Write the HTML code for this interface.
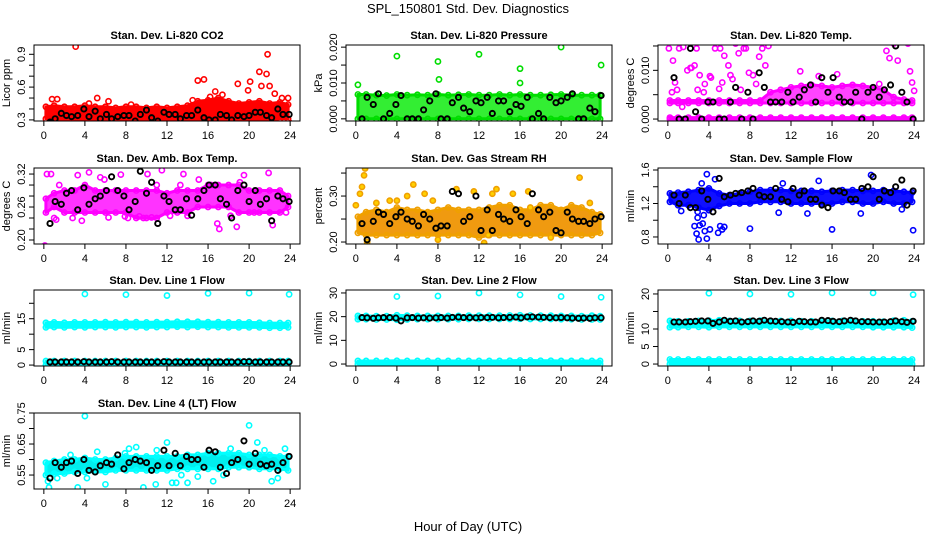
<!DOCTYPE html>
<html><head><meta charset="utf-8"><style>
html,body{margin:0;padding:0;background:#fff;}
svg{display:block;font-family:"Liberation Sans",sans-serif;}
</style></head><body>
<svg id="chart" width="936" height="540" viewBox="0 0 936 540">
<rect width="936" height="540" fill="#fff"/>
<text x="468" y="13" text-anchor="middle" font-size="13">SPL_150801  Std. Dev. Diagnostics</text>
<text x="468" y="531" text-anchor="middle" font-size="13">Hour of Day (UTC)</text>
</svg>
<script>
const xTicks = [0,4,8,12,16,20,24];
const bandHours = [0.2,1,2,3,4,5,6,7,8,9,10,11,12,13,14,15,16,17,18,19,20,21,22,23,23.8];
const blackHours = [0.6,1.1,1.7,2.2,2.7,3.3,3.9,4.4,5.0,5.5,6.1,6.6,7.2,7.8,8.3,8.9,9.4,10.0,10.5,11.1,11.7,12.2,12.8,13.3,13.9,14.4,15.0,15.6,16.1,16.7,17.2,17.8,18.3,18.9,19.5,20.0,20.6,21.1,21.7,22.2,22.8,23.3,23.9];
const outlierHours6 = [4,8,12,16,20,23.9];

// CO2
const co2Lo = [0.31,0.3,0.29,0.29,0.3,0.3,0.3,0.3,0.29,0.3,0.3,0.29,0.3,0.29,0.3,0.3,0.3,0.29,0.3,0.3,0.3,0.3,0.3,0.31,0.31];
const co2Hi = [0.42,0.43,0.42,0.42,0.43,0.42,0.42,0.41,0.42,0.42,0.41,0.42,0.41,0.42,0.43,0.47,0.48,0.5,0.47,0.45,0.46,0.47,0.45,0.46,0.44];
const co2OutX = [0.8,1.3,3.1,4.4,5.2,6.3,8.5,14.5,15,15.6,16.2,16.7,17.4,18.9,19.9,20.1,21,21.2,21.7,21.8,22,22.5,23.2,23.8,24,1.7,2.6,7.9,8.1,12.8];
const co2OutY = [0.49,0.49,0.97,0.45,0.5,0.47,0.44,0.48,0.66,0.67,0.51,0.56,0.53,0.63,0.57,0.65,0.74,0.61,0.72,0.9,0.61,0.54,0.5,0.5,0.27,0.26,0.26,0.25,0.25,0.27];
const co2Blk = [0.28,0.31,0.36,0.34,0.33,0.34,0.4,0.33,0.38,0.31,0.35,0.31,0.33,0.34,0.34,0.29,0.35,0.39,0.32,0.29,0.37,0.35,0.35,0.31,0.34,0.34,0.39,0.32,0.3,0.3,0.35,0.34,0.3,0.34,0.33,0.34,0.37,0.37,0.34,0.32,0.4,0.35,0.35];
// Pressure
const presLo = [0,0,0,0,0,0,0,0,0,0,0,0,0,0,0,0,0,0,0,0,0,0,0,0,0];
const presHi = [0.0068,0.0068,0.0066,0.0065,0.0068,0.0066,0.0067,0.0066,0.0068,0.0066,0.0067,0.0068,0.0066,0.0066,0.0068,0.0066,0.0068,0.0066,0.0066,0.0067,0.0068,0.0066,0.0066,0.0066,0.0066];
const presOutX = [0.2,4,8,8.1,12,16,16,20,23.9];
const presOutY = [0.0095,0.0175,0.016,0.011,0.018,0.014,0.01,0.02,0.015];
const presBlk = [0,0.006,0.004,0.007,0,0.0015,0.004,0.0065,0,0,0,0.0025,0.005,0.007,0,0,0.0045,0.006,0.003,0.002,0.005,0.0045,0.006,0.0015,0.005,0.005,0.002,0.004,0.0035,0.006,0,0.0015,0,0.006,0.0045,0.005,0.006,0.007,0,0,0.003,0.002,0.0065];
// Li-820 Temp
const tempZeroLo = [0,0,0,0,0,0,0,0,0,0,0,0,0,0,0,0,0,0,0,0,0,0,0,0,0];
const tempZeroHi = [0.0003,0.0003,0.0003,0.0003,0.0003,0.0003,0.0003,0.0003,0.0003,0.0003,0.0003,0.0003,0.0003,0.0003,0.0003,0.0003,0.0003,0.0003,0.0003,0.0003,0.0003,0.0003,0.0003,0.0003,0.0003];
const tempLo = [0.0033,0.0033,0.0033,0.0033,0.0033,0.0033,0.0033,0.0033,0.0033,0.0033,0.0033,0.0033,0.0033,0.0033,0.0033,0.0033,0.0033,0.0033,0.0033,0.0033,0.0033,0.0033,0.0033,0.0033,0.0033];
const tempHi = [0.0038,0.0038,0.0038,0.0038,0.0038,0.0038,0.0038,0.0038,0.0038,0.0038,0.0055,0.006,0.0065,0.0068,0.007,0.0068,0.0065,0.0068,0.007,0.0068,0.0065,0.006,0.0045,0.004,0.0038];
const tempOutX = [0.1,0.5,0.7,1.1,1.5,1.9,2.3,2.6,2.8,3.1,3.5,4.2,4.6,5.1,5.5,6.1,6.6,7.1,7.6,7.9,8.3,8.9,9.2,9.8,0.4,1.4,2.2,2.9,3.6,4.1,5.3,5.9,6.9,7.4,8.6,9.5,12.9,14.7,16.5,21.3,21.6,22.0,22.4,23.4,23.6,23.8,24.0,20.6,0.9,5.0,6.3];
const tempOutY = [0.0145,0.012,0.0075,0.0145,0.0148,0.010,0.0105,0.011,0.0145,0.009,0.0055,0.0085,0.0145,0.0145,0.013,0.009,0.0155,0.006,0.0145,0.0095,0.009,0.0128,0.0145,0.015,0.0055,0.0025,0.0105,0.006,0.0072,0.0088,0.0075,0.011,0.0135,0.0145,0.0072,0.011,0.0098,0.0088,0.0092,0.014,0.0125,0.0155,0.012,0.0155,0.0098,0.0075,0.0058,0.0072,0.006,0.0062,0.0082];
const tempBlk = [0.0085,0,0,0.0145,0.0015,0,0.0035,0.0035,0,0,0.0035,0.0065,0,0.0055,0,0.0095,0.0065,0.0035,0.0035,0.0035,0.0055,0.0035,0.0045,0.006,0.007,0.0035,0.0085,0.0055,0.0085,0.0045,0.0035,0.0035,0.0055,0,0.0055,0.0065,0.0045,0.006,0.007,0.015,0.0055,0.0035,0];
// Amb box temp
const ambLo = [0.25,0.26,0.25,0.25,0.25,0.25,0.25,0.25,0.25,0.24,0.24,0.24,0.25,0.25,0.25,0.26,0.26,0.26,0.26,0.25,0.25,0.25,0.25,0.25,0.26];
const ambHi = [0.275,0.285,0.29,0.29,0.3,0.29,0.29,0.29,0.29,0.29,0.29,0.29,0.285,0.29,0.29,0.29,0.3,0.3,0.3,0.3,0.29,0.29,0.29,0.29,0.28];
const ambOutX = [0.1,0.3,0.7,1.0,1.2,2.8,3.3,3.7,4.4,5.5,6.3,7.5,7.9,8.2,9.3,9.7,10.1,10.5,11.5,12.3,13.6,14.0,16.9,17.1,18.2,18.8,19.5,20.5,21.9,22.3,23.6,1.5,5.9,11.0,13.3,15.1,16.3,19.1];
const ambOutY = [0.19,0.32,0.32,0.24,0.237,0.24,0.318,0.235,0.323,0.314,0.241,0.319,0.243,0.24,0.243,0.24,0.32,0.241,0.327,0.244,0.32,0.244,0.23,0.22,0.244,0.224,0.318,0.25,0.322,0.227,0.25,0.30,0.31,0.30,0.30,0.31,0.30,0.305];
const ambBlk = [0.23,0.27,0.265,0.285,0.29,0.255,0.295,0.265,0.275,0.28,0.29,0.315,0.29,0.28,0.255,0.27,0.325,0.285,0.305,0.23,0.28,0.27,0.255,0.255,0.275,0.245,0.275,0.29,0.3,0.3,0.275,0.265,0.24,0.29,0.3,0.27,0.29,0.265,0.275,0.235,0.28,0.275,0.27];
// Gas stream RH
const rhLo = [0.22,0.215,0.215,0.215,0.215,0.215,0.215,0.215,0.215,0.215,0.215,0.215,0.21,0.215,0.215,0.215,0.215,0.215,0.215,0.215,0.215,0.215,0.215,0.215,0.22];
const rhHi = [0.255,0.265,0.27,0.265,0.275,0.27,0.27,0.265,0.27,0.275,0.27,0.27,0.27,0.275,0.28,0.28,0.27,0.27,0.28,0.28,0.27,0.28,0.275,0.265,0.26];
const rhOutX = [0.0,0.4,0.6,0.8,0.9,3.3,4.0,5.0,5.6,6.7,7.5,9.8,11.5,12.9,13.7,13.3,15.3,16.8,21.8,22.8,1.1,8.0,12.5,19.0,2.0,17.0];
const rhOutY = [0.28,0.305,0.32,0.345,0.36,0.29,0.29,0.3,0.325,0.305,0.29,0.315,0.31,0.215,0.315,0.305,0.305,0.31,0.34,0.285,0.2,0.205,0.198,0.21,0.285,0.275];
const rhBlk = [0.24,0.205,0.245,0.265,0.26,0.24,0.255,0.265,0.25,0.245,0.235,0.26,0.25,0.23,0.235,0.235,0.31,0.305,0.245,0.255,0.3,0.225,0.27,0.225,0.26,0.25,0.245,0.27,0.255,0.24,0.305,0.27,0.255,0.265,0.225,0.22,0.265,0.25,0.245,0.245,0.24,0.25,0.255];
// Sample flow
const flowLo = [1.22,1.18,1.18,1.15,1.12,1.17,1.2,1.2,1.2,1.22,1.22,1.22,1.2,1.2,1.2,1.2,1.2,1.22,1.22,1.2,1.2,1.22,1.2,1.2,1.22];
const flowHi = [1.32,1.33,1.34,1.36,1.38,1.32,1.3,1.32,1.34,1.36,1.36,1.36,1.35,1.35,1.35,1.34,1.35,1.36,1.36,1.35,1.35,1.36,1.35,1.34,1.33];
const flowOutX = [2.6,2.8,3.0,3.1,3.4,3.6,3.8,4.1,4.9,5.1,5.3,5.5,2.9,3.5,3.8,4.6,1.3,8.0,16.0,23.9,10.8,13.6,18.8,19.8,20.0,22.8,11.2,14.7,3.3,2.9];
const flowOutY = [0.93,0.84,0.77,0.94,0.96,0.87,0.78,0.89,0.85,0.93,0.89,0.92,1.03,1.06,1.55,1.49,1.11,0.9,0.89,0.88,1.09,1.08,1.08,1.54,1.52,1.13,1.44,1.47,1.44,1.1];
const flowBlk = [1.3,1.2,1.3,1.15,1.15,1.35,1.25,1.1,1.5,1.28,1.3,1.32,1.33,1.35,1.38,1.3,1.28,1.28,1.38,1.25,1.22,1.38,1.3,1.35,1.25,1.25,1.18,1.15,1.35,1.35,1.33,1.25,1.25,1.38,1.4,1.52,1.25,1.35,1.33,1.4,1.48,1.18,1.35];
// Line 1
const l1Lo = [12.2,12.3,12.2,12.3,12.2,12.3,12.3,12.2,12.3,12.3,12.2,12.3,12.3,12.4,12.3,12.4,12.3,12.3,12.2,12.2,12.2,12.2,12.1,12.1,12.2];
const l1Hi = [13.7,13.8,13.7,13.8,13.8,13.8,13.9,13.8,13.9,13.9,13.8,13.9,13.9,14.0,14.0,14.0,13.9,13.9,13.8,13.8,13.8,13.7,13.6,13.6,13.6];
const l1BotLo = [0,0,0,0,0,0,0,0,0,0,0,0,0,0,0,0,0,0,0,0,0,0,0,0,0];
const l1BotHi = [1.3,1.3,1.3,1.3,1.3,1.3,1.3,1.3,1.3,1.3,1.3,1.3,1.3,1.3,1.3,1.3,1.3,1.3,1.3,1.3,1.3,1.3,1.3,1.3,1.3];
const l1OutY = [23.0,22.8,22.5,23.2,23.3,22.9];
const l1Blk = [1,1,1,1,1,1,1.1,1,1,1,1,1.1,1,1,1,1,1,1,1,1,1.1,1,1,1,1,1,1,1,1,1,1,1,1,1,1.1,1.1,1,1,1,1,1,1,1];
// Line 2
const l2Lo = [18.9,18.9,18.8,18.8,18.7,18.8,18.9,18.9,18.9,18.9,18.9,19.0,19.0,19.0,19.0,19.0,19.1,19.0,19.0,19.0,18.9,18.9,18.8,18.8,18.8];
const l2Hi = [20.3,20.3,20.2,20.2,20.6,20.4,20.3,20.3,20.3,20.3,20.3,20.4,20.4,20.4,20.4,20.5,20.6,20.5,20.4,20.4,20.3,20.3,20.2,20.4,20.2];
const l2BotLo = [0,0,0,0,0,0,0,0,0,0,0,0,0,0,0,0,0,0,0,0,0,0,0,0,0];
const l2BotHi = [1.3,1.3,1.3,1.3,1.4,1.3,1.3,1.3,1.3,1.3,1.3,1.3,1.3,1.3,1.3,1.4,1.5,1.5,1.4,1.4,1.3,1.3,1.3,1.3,1.3];
const l2OutY = [28.5,28.7,30.0,29.2,28.5,28.2];
const l2Blk = [19.6,19.5,19.3,19.5,19.6,19.6,19.4,18.2,19.5,19.6,19.4,19.5,19.4,19.5,19.6,19.4,19.7,19.8,19.6,19.6,19.5,19.6,19.6,19.7,19.5,19.6,19.7,19.8,19.5,19.9,19.9,19.8,19.7,19.6,19.5,19.6,19.5,19.4,19.3,19.4,19.3,19.5,19.5];
// Line 3
const l3Lo = [10.5,10.5,10.6,10.6,10.5,10.6,10.6,10.6,10.6,10.6,10.6,10.6,10.6,10.6,10.6,10.6,10.6,10.6,10.6,10.6,10.5,10.5,10.5,10.5,10.4];
const l3Hi = [12.3,12.2,12.2,12.3,12.4,12.5,12.3,12.3,12.3,12.4,12.3,12.3,12.3,12.2,12.2,12.3,12.3,12.3,12.3,12.2,12.2,12.1,12.4,12.5,12.2];
const l3BotLo = [0,0,0,0,0,0,0,0,0,0,0,0,0,0,0,0,0,0,0,0,0,0,0,0,0];
const l3BotHi = [1.3,1.3,1.3,1.3,1.3,1.3,1.3,1.3,1.3,1.3,1.3,1.3,1.3,1.3,1.3,1.3,1.3,1.3,1.3,1.3,1.3,1.3,1.3,1.3,1.3];
const l3OutY = [20.2,20.0,19.9,20.3,20.3,19.8];
const l3Blk = [12.0,12.0,12.0,12.1,12.2,12.3,12.3,11.6,12.0,12.5,12.2,12.3,12.0,12.1,12.3,12.2,12.5,12.3,12.2,12.1,12.0,11.9,12.2,12.1,12.0,12.0,12.5,12.4,12.2,12.1,12.3,12.5,12.3,12.1,12.1,12.0,12.0,12.0,12.1,12.3,12.1,11.9,12.2];
// Line 4
const l4Lo = [0.55,0.555,0.555,0.56,0.56,0.56,0.56,0.565,0.565,0.565,0.565,0.565,0.565,0.57,0.57,0.57,0.57,0.57,0.575,0.575,0.575,0.57,0.57,0.57,0.565];
const l4Hi = [0.59,0.595,0.6,0.6,0.605,0.6,0.6,0.605,0.61,0.61,0.61,0.61,0.61,0.61,0.615,0.615,0.62,0.62,0.62,0.62,0.615,0.615,0.615,0.61,0.61];
const l4OutX = [0.4,0.5,3.3,4.0,4.2,6.0,7.9,8.3,9.7,10.9,12.0,12.5,12.9,14.0,15.0,16.5,17.5,20.0,20.8,22.2,22.8,23.5,1.3,2.6,5.2,9.0,11.0,18.2,21.5,13.4];
const l4OutY = [0.53,0.51,0.51,0.74,0.54,0.52,0.62,0.635,0.51,0.52,0.655,0.525,0.525,0.525,0.545,0.53,0.55,0.71,0.655,0.53,0.54,0.635,0.54,0.615,0.625,0.64,0.63,0.635,0.63,0.55];
const l4Blk = [0.54,0.59,0.575,0.59,0.595,0.555,0.6,0.565,0.56,0.58,0.59,0.585,0.615,0.57,0.59,0.6,0.595,0.59,0.565,0.58,0.63,0.58,0.62,0.58,0.61,0.6,0.6,0.575,0.63,0.625,0.575,0.555,0.59,0.6,0.66,0.585,0.62,0.585,0.58,0.585,0.565,0.59,0.61];

const NS = "http://www.w3.org/2000/svg";
const svg = document.getElementById('chart');
function mk(tag, attrs, parent){
  const e = document.createElementNS(NS, tag);
  for (const k in attrs) e.setAttribute(k, attrs[k]);
  (parent||svg).appendChild(e);
  return e;
}
const colLeft = [34, 346, 658];
const rowTop = [45, 168, 290, 413];
const W = 266, H = 76;

function panel(p){
  const L = colLeft[p.col], T = rowTop[p.row], B = T + H, R = L + W;
  const g = mk('g', {});
  
  
  const xs = h => L + W * (h + 0.96) / 25.92;
  const ys = v => B - H * (v - p.lo) / (p.hi - p.lo);
  const clipId = 'clip-' + p.name;
  const cp = mk('clipPath', {id: clipId}, g);
  mk('rect', {x: L, y: T, width: W, height: H}, cp);
  const plot = mk('g', {'clip-path': 'url(#' + clipId + ')'}, g);
  
  
  // bands
  (p.bands || []).forEach((bd, bi) => {
    let pts = [];
    bandHours.forEach((h, i) => pts.push(xs(h).toFixed(1) + ',' + ys(bd[1][i]).toFixed(1)));
    for (let i = bandHours.length - 1; i >= 0; i--) pts.push(xs(bandHours[i]).toFixed(1) + ',' + ys(bd[0][i]).toFixed(1));
    const poly = mk('polygon', {points: pts.join(' '), fill: p.fill, stroke: p.color, 'stroke-width': 3, 'stroke-linejoin': 'round'}, plot);
    
    
    bandHours.forEach((h, i) => {
      [bd[0][i], bd[1][i]].forEach(v => {
        const c = mk('circle', {cx: xs(h), cy: ys(v), r: 2.6, fill: 'none', stroke: p.color, 'stroke-width': 1.6}, plot);
        
        
      });
    });
  });
  // outliers
  if (p.outX) p.outX.forEach((h, i) => {
    const c = mk('circle', {cx: xs(h), cy: ys(p.outY[i]), r: 2.6, fill: p.outFill || 'none', stroke: p.color, 'stroke-width': 1.6}, plot);
    
    
  });
  // black
  blackHours.forEach((h, i) => {
    const c = mk('circle', {cx: xs(h), cy: ys(p.blk[i]), r: 2.6, fill: 'none', stroke: '#000', 'stroke-width': 1.9}, plot);
    
    
  });
  // box
  const box = mk('rect', {x: L, y: T, width: W, height: H, fill: 'none', stroke: '#000', 'stroke-width': 1}, g);
  
  
  // x axis
  const xa = mk('g', {}, g);
  
  
  xTicks.forEach(t => {
    const x = xs(t);
    mk('line', {x1: x, x2: x, y1: B, y2: B + 5, stroke: '#000'}, xa);
    const tx = mk('text', {x: x, y: B + 18, 'text-anchor': 'middle', 'font-size': 11}, xa);
    tx.textContent = t;
    
    
  });
  // y axis
  const ya = mk('g', {}, g);
  
  
  p.ticks.forEach((t, i) => {
    const y = ys(t);
    mk('line', {x1: L - 5, x2: L, y1: y, y2: y, stroke: '#000'}, ya);
    if (p.labels[i] !== '') {
      const tx = mk('text', {x: L - 9, y: y, 'text-anchor': 'middle', 'font-size': 11, transform: 'rotate(-90 ' + (L - 9) + ' ' + y + ')'}, ya);
      tx.textContent = p.labels[i];
      
      
    }
  });
  const yt = mk('text', {x: L - 24, y: (T + B) / 2, 'text-anchor': 'middle', 'font-size': 11, transform: 'rotate(-90 ' + (L - 24) + ' ' + (T + B) / 2 + ')'}, g);
  yt.textContent = p.ylab;
  
  
  const tt = mk('text', {x: L + W / 2, y: T - 6, 'text-anchor': 'middle', 'font-size': 11, 'font-weight': 'bold'}, g);
  tt.textContent = p.title;
  
  
}

panel({name:'co2', row:0, col:0, title:'Stan. Dev. Li-820 CO2', ylab:'Licor ppm', lo:0.29, hi:0.985,
  ticks:[0.3,0.4,0.5,0.6,0.7,0.8,0.9], labels:['0.3','','','0.6','','','0.9'],
  color:'#ff0000', fill:'#ff0000', bands:[[co2Lo,co2Hi]], outX:co2OutX, outY:co2OutY, blk:co2Blk});
panel({name:'pressure', row:0, col:1, title:'Stan. Dev. Li-820 Pressure', ylab:'kPa', lo:-0.0006, hi:0.0206,
  ticks:[0,0.005,0.01,0.015,0.02], labels:['0.000','','0.010','','0.020'],
  color:'#00dd00', fill:'#33ee33', bands:[[presLo,presHi]], outX:presOutX, outY:presOutY, blk:presBlk});
panel({name:'li820-temp', row:0, col:2, title:'Stan. Dev. Li-820 Temp.', ylab:'degrees C', lo:-0.0004, hi:0.0152,
  ticks:[0,0.005,0.01,0.015], labels:['0.000','','0.010',''],
  color:'#ff00ff', fill:'#ff44ff', bands:[[tempZeroLo,tempZeroHi],[tempLo,tempHi]], outX:tempOutX, outY:tempOutY, blk:tempBlk});
panel({name:'amb-box-temp', row:1, col:0, title:'Stan. Dev. Amb. Box Temp.', ylab:'degrees C', lo:0.1927, hi:0.331,
  ticks:[0.2,0.22,0.24,0.26,0.28,0.3,0.32], labels:['0.20','','','0.26','','','0.32'],
  color:'#ff00ff', fill:'#ff33ff', bands:[[ambLo,ambHi]], outX:ambOutX, outY:ambOutY, blk:ambBlk});
panel({name:'gas-stream-rh', row:1, col:1, title:'Stan. Dev. Gas Stream RH', ylab:'percent', lo:0.1957, hi:0.361,
  ticks:[0.2,0.25,0.3,0.35], labels:['0.20','','0.30',''],
  color:'#f0a000', fill:'#f09a10', outFill:'#ffd000', bands:[[rhLo,rhHi]], outX:rhOutX, outY:rhOutY, blk:rhBlk});
panel({name:'sample-flow', row:1, col:2, title:'Stan. Dev. Sample Flow', ylab:'ml/min', lo:0.716, hi:1.624,
  ticks:[0.8,1.0,1.2,1.4,1.6], labels:['0.8','','1.2','','1.6'],
  color:'#0000ff', fill:'#1010ff', bands:[[flowLo,flowHi]], outX:flowOutX, outY:flowOutY, blk:flowBlk});
panel({name:'line1-flow', row:2, col:0, title:'Stan. Dev. Line 1 Flow', ylab:'ml/min', lo:-0.3, hi:24.3,
  ticks:[0,5,10,15,20], labels:['0','5','','15',''],
  color:'#00ffff', fill:'#00ffff', bands:[[l1Lo,l1Hi],[l1BotLo,l1BotHi]], outX:outlierHours6, outY:l1OutY, blk:l1Blk});
panel({name:'line2-flow', row:2, col:1, title:'Stan. Dev. Line 2 Flow', ylab:'ml/min', lo:-0.83, hi:31.25,
  ticks:[0,10,20,30], labels:['0','10','20','30'],
  color:'#00ffff', fill:'#00ffff', bands:[[l2Lo,l2Hi],[l2BotLo,l2BotHi]], outX:outlierHours6, outY:l2OutY, blk:l2Blk});
panel({name:'line3-flow', row:2, col:2, title:'Stan. Dev. Line 3 Flow', ylab:'ml/min', lo:-0.56, hi:21.13,
  ticks:[0,5,10,15,20], labels:['0','5','10','','20'],
  color:'#00ffff', fill:'#00ffff', bands:[[l3Lo,l3Hi],[l3BotLo,l3BotHi]], outX:outlierHours6, outY:l3OutY, blk:l3Blk});
panel({name:'line4-flow', row:3, col:0, title:'Stan. Dev. Line 4 (LT) Flow', ylab:'ml/min', lo:0.505, hi:0.75,
  ticks:[0.55,0.6,0.65,0.7,0.75], labels:['0.55','','0.65','','0.75'],
  color:'#00ffff', fill:'#00eeee', bands:[[l4Lo,l4Hi]], outX:l4OutX, outY:l4OutY, blk:l4Blk});
</script>
</body></html>
